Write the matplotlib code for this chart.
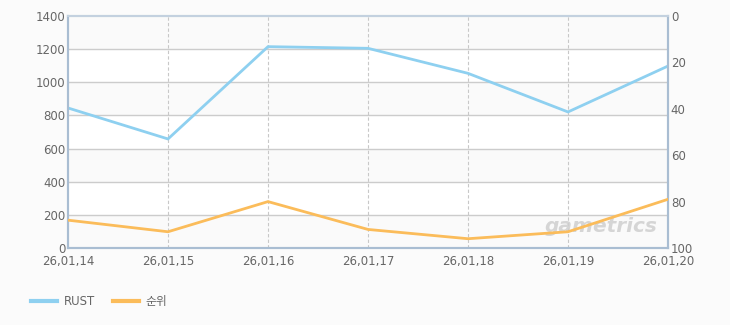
import matplotlib

matplotlib.use("Agg")
import matplotlib.pyplot as plt
from matplotlib.lines import Line2D

plt.rcParams["font.family"] = ["DejaVu Sans", "Noto Sans CJK KR"]

# data
dates = ["26,01,14", "26,01,15", "26,01,16", "26,01,17", "26,01,18", "26,01,19", "26,01,20"]
rust = [845, 658, 1215, 1205, 1054, 821, 1098]
rank = [88, 93, 80, 92, 96, 93, 79]

BLUE = "#8ed0f0"
ORANGE = "#fbbc5a"
SPINE = "#a9bdd2"
TXT = "#666666"

fig = plt.figure(figsize=(7.3, 3.25), dpi=100, facecolor="#fbfbfb")
ax = fig.add_axes([68 / 730, 1 - 248 / 325, 600 / 730, 232 / 325])
ax.set_facecolor("white")

x = list(range(len(dates)))
ax.set_xlim(0, len(dates) - 1)
ax.set_ylim(0, 1400)

# alternating horizontal bands
for lo in range(0, 1400, 400):
    ax.axhspan(lo, lo + 200, color="#fafafa", zorder=0)

for yv in range(200, 1400, 200):
    ax.axhline(yv, color="#cccccc", lw=1, zorder=1)
for xv in x[1:-1]:
    ax.axvline(xv, color="#c8c8c8", lw=0.8, ls=(0, (3, 2)), zorder=1)

ax.plot(x, rust, color=BLUE, lw=2, zorder=3, solid_joinstyle="miter")

ax.set_xticks(x)
ax.set_xticklabels(dates)
ax.set_yticks(range(0, 1401, 200))
ax.tick_params(axis="y", length=0, labelsize=8.5, colors=TXT, pad=2)
ax.tick_params(axis="x", length=0, labelsize=8.5, colors=TXT, pad=5)

ax2 = ax.twinx()
ax2.set_ylim(100, 0)
ax2.set_yticks(range(0, 101, 20))
ax2.tick_params(length=0, labelsize=8.5, colors=TXT, pad=2)
ax2.plot(x, rank, color=ORANGE, lw=2, zorder=3, solid_joinstyle="miter")

for a in (ax, ax2):
    for side in ("left", "right", "bottom"):
        a.spines[side].set_color(SPINE)
        a.spines[side].set_linewidth(1.5)
    a.spines["top"].set_color("#c3d1df")
    a.spines["top"].set_linewidth(1.5)

# watermark
ax.text(0.983, 0.05, "gametrics", transform=ax.transAxes, ha="right", va="bottom",
        fontsize=14.5, fontstyle="italic", fontweight="bold", color="#cfcfcf", alpha=0.85, zorder=2)

handles = [Line2D([], [], color=BLUE, lw=3), Line2D([], [], color=ORANGE, lw=3)]
fig.legend(handles, ["RUST", "순위"], loc="lower left", bbox_to_anchor=(20 / 730, 6 / 325),
           ncol=2, frameon=False, fontsize=8.5, handlelength=2.2, handletextpad=0.6,
           columnspacing=1.5, labelcolor=TXT)

fig.savefig("out.png", dpi=100, facecolor=fig.get_facecolor())
